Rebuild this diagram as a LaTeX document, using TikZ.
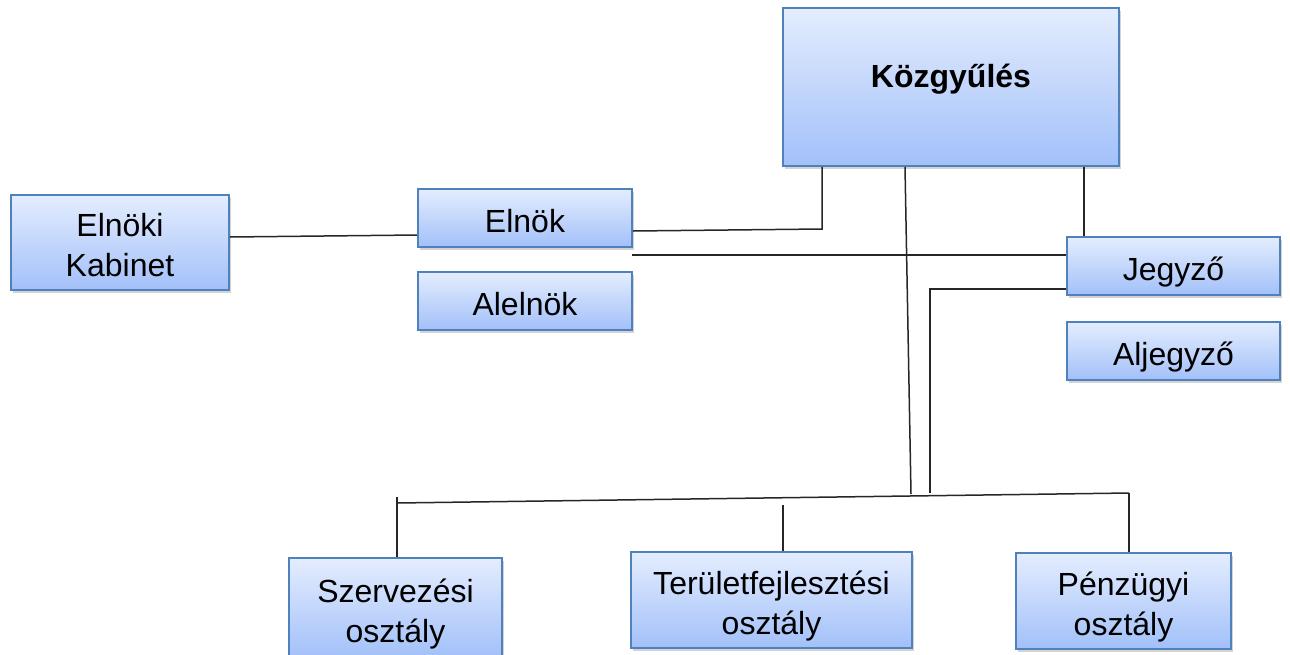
\documentclass[tikz,border=0pt]{standalone}
\usepackage{fontspec}
\setmainfont{Liberation Sans}
\usetikzlibrary{shadows}
\definecolor{boxborder}{RGB}{79,129,189}
\definecolor{boxtop}{RGB}{228,237,254}
\definecolor{boxbottom}{RGB}{162,192,249}
\begin{document}
\begin{tikzpicture}[x=1pt,y=-1pt,
  box/.style={draw=boxborder, line width=1.8pt, top color=boxtop, bottom color=boxbottom,
    inner sep=0pt, align=center, font=\fontsize{32}{40}\selectfont,
    text height=28pt, text depth=0pt,
    drop shadow={shadow xshift=2pt, shadow yshift=-3pt, opacity=0.35}},
  twoline/.style={text height=68pt, text depth=0pt},
  conn/.style={line width=1.5pt, draw=black!85}]
\useasboundingbox (0,0) rectangle (1290,654);
\clip (0,0) rectangle (1290,654);
% boxes
\node[box, minimum width=336pt, minimum height=158pt] (kozgy) at (951,87) {};
\node[anchor=base, font=\fontsize{32}{38}\selectfont\bfseries] (kozgytext) at (951,87) {Közgyűlés};
\node[box, minimum width=214pt, minimum height=58pt] (elnok) at (525,218) {Elnök};
\node[box, minimum width=214pt, minimum height=58pt] (alelnok) at (525,301) {Alelnök};
\node[box, twoline, minimum width=218pt, minimum height=95pt] (kabinet) at (120,242.5) {Elnöki\\Kabinet};
\node[box, minimum width=213pt, minimum height=58pt] (jegyzo) at (1173.5,266) {Jegyző};
\node[box, minimum width=213pt, minimum height=58pt] (aljegyzo) at (1173.5,351) {Aljegyző};
\node[box, twoline, minimum width=213pt, minimum height=100pt] (szerv) at (395.5,608) {Szervezési\\osztály};
\node[box, twoline, minimum width=281pt, minimum height=96pt] (terulet) at (771.5,600) {Területfejlesztési\\osztály};
\node[box, twoline, minimum width=215pt, minimum height=96pt] (penz) at (1123.5,601) {Pénzügyi\\osztály};
% free ends
\coordinate (c1) at (822,229);
\coordinate (c2) at (632,255);
\coordinate (c3) at (911,494);
\coordinate (c4) at (930,289);
\coordinate (c5) at (930,493);
\coordinate (busL) at (397,503);
\coordinate (busR) at (1129,493);
\coordinate (tickL) at (397,497);
\coordinate (tickM) at (783,505);
% connectors
\draw[conn] (kabinet.east |- 0,237) -- (elnok.west |- 0,235);
\draw[conn] (elnok.east |- 0,231) -- (c1) -- (kozgy.south -| c1);
\draw[conn] (c2) -- (jegyzo.west |- c2);
\draw[conn] (kozgy.south -| 905,0) -- (c3);
\draw[conn] (kozgy.south -| 1084,0) -- (jegyzo.north -| 1084,0);
\draw[conn] (jegyzo.west |- c4) -- (c4) -- (c5);
\draw[conn] (busL) -- (busR);
\draw[conn] (tickL) -- (szerv.north -| tickL);
\draw[conn] (tickM) -- (terulet.north -| tickM);
\draw[conn] (busR) -- (penz.north -| busR);
\end{tikzpicture}
\end{document}
